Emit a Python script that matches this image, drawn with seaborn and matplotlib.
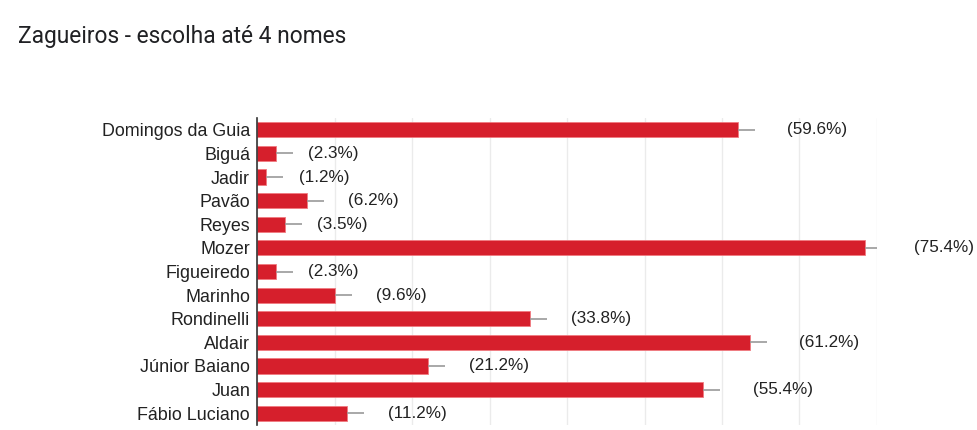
import pandas as pd
import matplotlib.pyplot as plt
import seaborn as sns

# data (Google Forms: 260 respostas)
players = ['Domingos da Guia', 'Biguá', 'Jadir', 'Pavão', 'Reyes', 'Mozer',
           'Figueiredo', 'Marinho', 'Rondinelli', 'Aldair', 'Júnior Baiano',
           'Juan', 'Fábio Luciano']
votes = [155, 6, 3, 16, 9, 196, 6, 25, 88, 159, 55, 144, 29]
percents = [59.6, 2.3, 1.2, 6.2, 3.5, 75.4, 2.3, 9.6, 33.8, 61.2, 21.2, 55.4, 11.2]

df = pd.DataFrame({'Jogador': players, 'Votos': votes, 'Pct': percents})

sns.set_theme(style='white')
plt.rcParams['font.family'] = ['Liberation Sans', 'DejaVu Sans']

fig = plt.figure(figsize=(9.77, 4.30), dpi=100)
ax = fig.add_axes([257 / 977, 1 - 425 / 430, 620 / 977, 307 / 430])

sns.barplot(data=df, x='Votos', y='Jogador', orient='h', color='#d61f2c',
            saturation=1, width=0.64, edgecolor='#f07a80', linewidth=0.6, ax=ax)

# grey whiskers + labels
for i, (v, p) in enumerate(zip(votes, percents)):
    ax.hlines(i, v, v + 5.5, color='#999999', linewidth=1.2, zorder=1)
    off = 24 + 8.5 * len(str(v))
    ax.annotate(f'({p}%)', xy=(v + 5.5, i), xytext=(off - 17, 0),
                textcoords='offset pixels', va='center', ha='left',
                fontsize=12.3, color='#222222', annotation_clip=False)

ax.set_xlim(0, 200)
ax.set_ylim(12.5, -0.5)
ax.set_xticks(range(0, 201, 25))
ax.xaxis.grid(True, color='#ebebeb', linewidth=1)
ax.set_axisbelow(True)
ax.set_xticklabels([])
ax.tick_params(axis='x', length=0)
ax.tick_params(axis='y', length=0, pad=5, labelsize=12.9, labelcolor='#222222')
ax.set_xlabel('')
ax.set_ylabel('')
for s in ['top', 'right', 'bottom']:
    ax.spines[s].set_visible(False)
ax.spines['left'].set_color('#333333')
ax.spines['left'].set_linewidth(1.2)

fig.text(18 / 977, 1 - 37 / 430, 'Zagueiros - escolha até 4 nomes',
         fontsize=16.4, family=['Roboto', 'DejaVu Sans'], color='#202124',
         va='center', ha='left')

fig.savefig('out.png', dpi=100)
